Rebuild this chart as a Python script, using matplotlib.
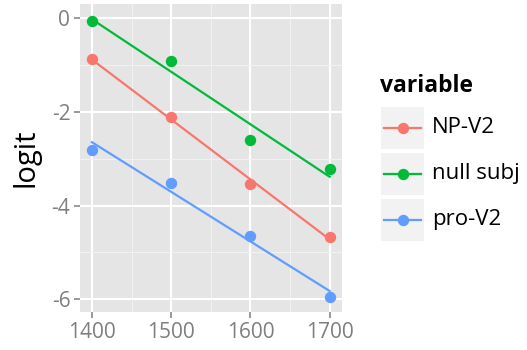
import numpy as np
import matplotlib.pyplot as plt
from matplotlib.lines import Line2D
from matplotlib.patches import Rectangle

plt.rcParams['font.family'] = ['Open Sans', 'DejaVu Sans']

# data
years = [1400, 1500, 1600, 1700]
np_v2 = [-0.88, -2.12, -3.54, -4.67]
null_subj = [-0.06, -0.92, -2.61, -3.23]
pro_v2 = [-2.81, -3.52, -4.65, -5.96]
names = ["NP-V2", "null subj", "pro-V2"]
colors = ["#F8766D", "#00BA38", "#619CFF"]
x_ticks = [1400, 1500, 1600, 1700]
y_ticks = [0, -2, -4, -6]

W, H = 527, 350
fig = plt.figure(figsize=(W/100, H/100), dpi=100)
ax = fig.add_axes([80/W, 1-312/H, (342-80)/W, (312-4)/H])
ax.set_facecolor("#E5E5E5")

x = np.array(years)
for vals, c in zip([np_v2, null_subj, pro_v2], colors):
    # linear fit like geom_smooth(method="lm")
    k, b = np.polyfit(x, vals, 1)
    ax.plot(x, k*x+b, color=c, lw=1.6, zorder=3)
    ax.plot(x, vals, "o", color=c, ms=8.2, mec="none", zorder=4)

ax.set_xlim(1385, 1715.6)
ax.set_ylim(-6.27, 0.3)
ax.set_xticks(x_ticks)
ax.set_yticks(y_ticks)
ax.set_xticks([1450, 1550, 1650], minor=True)
ax.set_yticks([-1, -3, -5], minor=True)
ax.grid(which="major", color="white", lw=1.5, zorder=0)
ax.grid(which="minor", color="#F2F2F2", lw=0.7, zorder=0)
ax.set_axisbelow(True)
for s in ax.spines.values():
    s.set_visible(False)
ax.tick_params(which="major", length=4, width=1.1, color="#7F7F7F",
               labelsize=15, labelcolor="#7F7F7F", pad=3)
ax.tick_params(which="minor", length=0)
ax.set_yticklabels([str(v) for v in y_ticks])
ax.set_ylabel("logit", fontsize=21, labelpad=8)

# legend, drawn by hand in ggplot style
def fx(px):
    return px/W
def fy(py):
    return 1-py/H

fig.text(fx(380), fy(86), "variable", fontsize=16.5, fontweight="bold", va="center", ha="left")
for i, (n, c) in enumerate(zip(names, colors)):
    top = 106.5 + i*46
    fig.add_artist(Rectangle((fx(381), fy(top+42.5)), 43/W, 42.5/H,
                             transform=fig.transFigure, facecolor="#F2F2F2", edgecolor="none"))
    cy = fy(top+21.25)
    fig.add_artist(Line2D([fx(384), fx(421)], [cy, cy], color=c, lw=1.6, transform=fig.transFigure))
    fig.add_artist(Line2D([fx(402.5)], [cy], marker="o", ms=8.2, color=c, mec="none", transform=fig.transFigure))
    fig.text(fx(432), cy, n, fontsize=16, va="center", ha="left")

fig.savefig("out.png", dpi=100)
